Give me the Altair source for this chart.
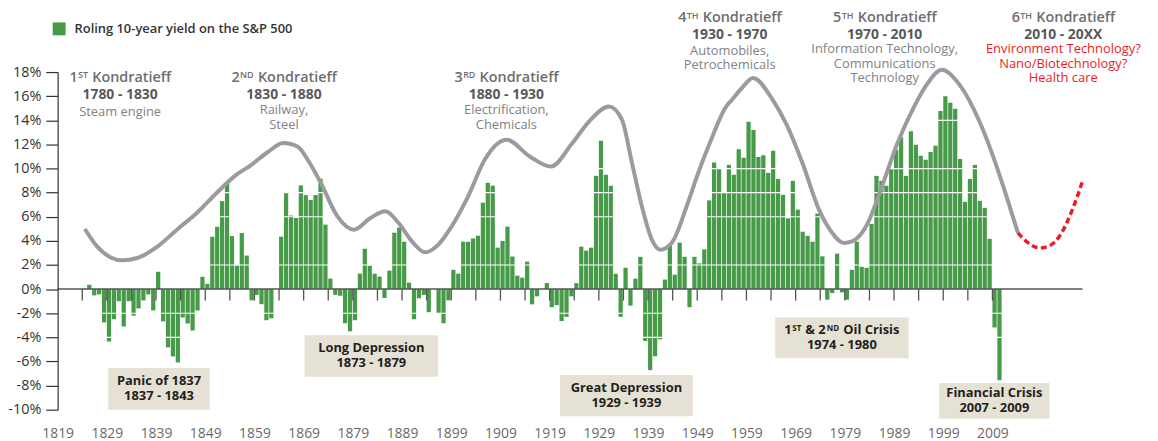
import altair as alt
import pandas as pd

# ---------------- data ----------------
BAR_YEARS = list(range(1825, 2011))
BAR_VALUES = [
    0.36, -0.52, -0.44, -2.76, -4.34, -2.5, -1.0, -3.1, -1.0, -2.2,
    -1.6, -0.94, -0.44, -1.77, 1.44, -2.68, -4.83, -5.58, -6.08, -2.35,
    -2.85, -3.43, -1.77, 1.02, 0.44, 4.34, 5.17, 7.3, 8.8, 4.4,
    1.95, 4.65, 2.78, -0.93, -0.48, -1.25, -2.58, -2.42, 0.0, 4.35,
    8.0, 6.1, 5.9, 8.6, 7.8, 7.4, 7.8, 9.15, 5.35, 0.87,
    -0.48, -0.55, -2.83, -3.5, -2.58, 1.28, 3.35, 1.95, 1.28, 1.04,
    -0.73, 1.53, 4.68, 5.1, 3.93, 0.54, -2.5, -0.76, -0.48, -1.92,
    0.0, -2.0, -2.83, -0.93, 1.6, 1.28, 3.93, 3.93, 4.2, 4.43,
    7.17, 8.82, 8.58, 3.44, 4.0, 5.18, 2.7, 1.12, 0.95, 2.28,
    -1.26, -0.6, 0.0, 0.5, -1.5, -1.33, -2.65, -2.3, -0.6, 0.5,
    3.52, 3.19, 3.44, 9.39, 12.3, 9.48, 8.57, 1.27, -2.3, 1.77,
    -1.37, 0.87, 2.68, -4.3, -6.72, -5.57, -4.16, 0.79, 3.6, 1.2,
    3.85, 2.68, -1.5, 2.68, 2.14, 3.3, 7.36, 10.5, 10.0, 8.0,
    10.3, 9.48, 11.6, 10.9, 13.87, 13.2, 10.96, 11.1, 9.64, 11.47,
    9.14, 7.82, 5.87, 8.98, 6.59, 4.76, 4.42, 3.93, 6.26, 2.72,
    -0.88, -0.33, 2.94, -0.27, -0.88, 1.6, 3.93, 1.85, 1.77, 5.41,
    9.39, 8.98, 8.57, 10.0, 11.55, 12.6, 9.39, 13.1, 11.97, 11.06,
    10.72, 11.38, 11.88, 14.77, 16.0, 15.45, 14.95, 10.8, 7.24, 9.14,
    10.3, 7.32, 6.74, 4.17, -3.18, -7.55,
]
assert len(BAR_YEARS) == len(BAR_VALUES)
SERIES_NAME = "Roling 10-year yield on the S&P 500"

TICK_YEARS = list(range(1824, 2010, 5))
X_LABEL_YEARS = list(range(1819, 2010, 10))
Y_TICKS = list(range(-10, 19, 2))
GRID_LEVELS = [-4, -2, 2, 6, 8, 10, 14]

WAVE_YEARS = [1824.53, 1827.09, 1829.78, 1832.14, 1835.17, 1839.2, 1843.24, 1847.28, 1851.31,
              1855.35, 1858.38, 1861.8, 1864.85, 1867.88, 1869.82, 1872.5, 1875.87, 1879.22,
              1882.59, 1885.62, 1888.3, 1891.01, 1893.69, 1896.38, 1899.08, 1902.43, 1905.8,
              1910.24, 1914.94, 1919.26, 1923.62, 1926.99, 1931.09, 1933.71, 1935.73, 1937.75,
              1939.77, 1941.46, 1943.8, 1947.17, 1949.19, 1951.55, 1954.9, 1956.06, 1958.1,
              1960.35, 1964.33, 1967.01, 1970.38, 1973.75, 1976.44, 1978.8, 1980.47, 1983.5,
              1986.19, 1989.56, 1992.93, 1995.61, 1998.7, 2002.33, 2006.37, 2009.74, 2011.76,
              2014.18]
WAVE_VALUES = [4.99, 3.5, 2.63, 2.39, 2.58, 3.5, 4.93, 6.31, 7.97,
               9.49, 10.31, 11.39, 12.11, 11.78, 10.73, 8.8, 6.03, 4.93,
               5.9, 6.45, 5.48, 3.96, 3.05, 3.69, 5.2, 7.69, 10.73,
               12.39, 11.0, 10.17, 12.11, 13.9, 15.15, 14.04, 10.46, 6.86,
               4.1, 3.27, 3.83, 7.25, 9.63, 12.11, 15.15, 15.7, 16.69,
               17.5, 15.7, 13.77, 10.46, 6.59, 4.66, 3.83, 3.96, 5.34,
               8.1, 11.97, 15.01, 16.94, 18.19, 16.94, 13.9, 10.31, 7.82,
               4.66]
FUTURE_YEARS = [2014.18, 2016.2, 2018.56, 2020.6, 2022.6, 2025.25, 2027.3]
FUTURE_VALUES = [4.66, 3.85, 3.41, 3.6, 4.37, 6.59, 8.93]

# Kondratieff headers
K_CENTERS = [1831.7, 1865.0, 1910.2, 1955.6, 1987.1, 2023.4]
K_TOP = [17.51, 17.51, 17.51, 22.45, 22.45, 22.45]
K_NUM = ["1", "2", "3", "4", "5", "6"]
K_SUP = ["ST", "ND", "RD", "TH", "TH", "TH"]
K_PERIOD = ["1780 - 1830", "1830 - 1880", "1880 - 1930", "1930 - 1970", "1970 - 2010", "2010 - 20XX"]
K_DESC = [["Steam engine"], ["Railway,", "Steel"], ["Electrification,", "Chemicals"],
          ["Automobiles,", "Petrochemicals"],
          ["Information Technology,", "Communications", "Technology"],
          ["Environment Technology?", "Nano/Biotechnology?", "Health care"]]
K_DESC_RED = [False, False, False, False, False, True]

# Crisis boxes
BOX_X1 = [1829.3, 1869.2, 1921.1, 1964.85, 1998.2]
BOX_X2 = [1849.9, 1896.3, 1948.1, 1991.95, 2020.6]
BOX_Y1 = [-6.54, -3.82, -7.12, -2.36, -7.78]
BOX_Y2 = [-10.0, -7.26, -10.55, -5.74, -10.74]
BOX_LINE1 = ["Panic of 1837", "Long Depression", "Great Depression", None, "Financial Crisis"]
BOX_LINE2 = ["1837 - 1843", "1873 - 1879", "1929 - 1939", "1974 - 1980", "2007 - 2009"]

# ---------------- styles ----------------
FONT = "Open Sans"
GREEN = "#479b48"
GRAY_LINE = "#9b9b9d"
RED = "#ed1c24"
BEIGE = "#e6e1d5"
C_HEAD = "#6d6e71"
C_PERIOD = "#58595b"
C_DESC = "#808285"
C_BOX = "#231f20"

W_PX, H_PX = 1032, 340
X_DOM = [1819, 2027.3]
Y_DOM = [-10, 18]
PX_PER_YEAR = W_PX / (X_DOM[1] - X_DOM[0])
PX_PER_PCT = H_PX / (Y_DOM[1] - Y_DOM[0])

CW = {' ': 0.26, '-': 0.322, '%': 0.824, '&': 0.73, '/': 0.371, ',': 0.25, '.': 0.266, '?': 0.429,
      'A': 0.633, 'B': 0.647, 'C': 0.631, 'D': 0.735, 'E': 0.557, 'F': 0.534, 'G': 0.736, 'H': 0.754,
      'I': 0.279, 'K': 0.61, 'L': 0.54, 'N': 0.774, 'O': 0.783, 'P': 0.6, 'R': 0.618, 'S': 0.549,
      'T': 0.553, 'X': 0.577, 'a': 0.556, 'b': 0.613, 'c': 0.48, 'd': 0.613, 'e': 0.561, 'f': 0.336,
      'g': 0.546, 'h': 0.613, 'i': 0.258, 'k': 0.529, 'l': 0.258, 'm': 0.928, 'n': 0.613, 'o': 0.602,
      'p': 0.613, 'r': 0.408, 's': 0.477, 't': 0.352, 'u': 0.613, 'v': 0.5, 'w': 0.774, 'x': 0.523,
      'y': 0.5, 'z': 0.463}
for d in "0123456789":
    CW[d] = 0.572
WF = {400: 1.0, 600: 1.04, 700: 1.07}


def text_w(s, size, weight):
    return sum(CW.get(c, 0.55) for c in s) * size * WF[weight]


def place(cx, cy, dx, dy):
    return cx + dx / PX_PER_YEAR, cy - dy / PX_PER_PCT


def seg_rows(cx, cy, off, segments, weight, fill):
    total = sum(text_w(t, s, weight) for t, s, _ in segments)
    cur = -total / 2
    rows = []
    for t, s, r in segments:
        lead = len(t) - len(t.lstrip(" "))
        x, y = place(cx, cy, cur + text_w(" " * lead, s, weight), off - r)
        rows.append(dict(x=x, y=y, t=t.strip(), fs=s, col=fill))
        cur += text_w(t, s, weight)
    return rows


def block_row(cx, cy, first_off, lines, size, fill):
    # multi-line block, baseline "top": y is the top of the first line
    x, y = place(cx, cy, 0, first_off - 0.49 * size)
    return dict(x=x, y=y, t="\n".join(lines), fs=size, col=fill)


LH_DESC = 14.5
LH_BOX = 15

seg600, seg700, blk700, blk400 = [], [], [], []
for i in range(6):
    cx, cy = K_CENTERS[i], K_TOP[i]
    seg600 += seg_rows(cx, cy, 0, [(K_NUM[i], 14.5, 0), (K_SUP[i], 9, 2.5), (" Kondratieff", 14.5, 0)],
                       600, C_HEAD)
    blk700.append(block_row(cx, cy, 17, [K_PERIOD[i]], 14, C_PERIOD))
    first = {1: 34.5, 2: 33, 3: 31.5}[len(K_DESC[i])]
    blk400.append(block_row(cx, cy, first, K_DESC[i], 13, RED if K_DESC_RED[i] else C_DESC))

for i in range(5):
    cx = (BOX_X1[i] + BOX_X2[i]) / 2
    cy = (BOX_Y1[i] + BOX_Y2[i]) / 2
    if BOX_LINE1[i] is None:
        seg700 += seg_rows(cx, cy, -7.5, [("1", 13, 0), ("ST", 8, 2), (" & 2", 13, 0), ("ND", 8, 2),
                                          (" Oil Crisis", 13, 0)], 700, C_BOX)
        blk700.append(block_row(cx, cy, 7.5, [BOX_LINE2[i]], 13, C_BOX))
    else:
        blk700.append(block_row(cx, cy, -7.5, [BOX_LINE1[i], BOX_LINE2[i]], 13, C_BOX))

bars_df = pd.DataFrame({"year": BAR_YEARS, "val": BAR_VALUES})
bars_df["series"] = SERIES_NAME
wave_df = pd.DataFrame({"year": WAVE_YEARS, "val": WAVE_VALUES})
future_df = pd.DataFrame({"year": FUTURE_YEARS, "val": FUTURE_VALUES})
grid_df = pd.DataFrame({"lvl": GRID_LEVELS})
tick_df = pd.DataFrame({"year": TICK_YEARS, "top": 0.0, "bot": -0.95})
zero_df = pd.DataFrame({"z": [0.0]})
box_df = pd.DataFrame({"x1": BOX_X1, "x2": BOX_X2, "y1": BOX_Y1, "y2": BOX_Y2})

XS = alt.Scale(domain=X_DOM, nice=False, zero=False)
YS = alt.Scale(domain=Y_DOM, nice=False)

XAX = alt.Axis(values=X_LABEL_YEARS, format="d", title=None, ticks=False, domain=False, grid=False,
               labelPadding=17, labelFont=FONT, labelFontSize=14, labelColor="#6a6a6a",
               labelOverlap=False, labelFlush=False)
YAX = alt.Axis(values=Y_TICKS, labelExpr="datum.value + '%'", title=None, grid=False, tickSize=12,
               tickColor="#333333", domainColor="#333333", tickWidth=1.2, domainWidth=1.2,
               labelPadding=5, labelFont=FONT, labelFontSize=14.5, labelColor="#333333", zindex=1)


def X(field):
    return alt.X(field, scale=XS, axis=XAX)


def Y(field, **kw):
    return alt.Y(field, scale=YS, axis=YAX, **kw)


bars = alt.Chart(bars_df).mark_bar().transform_calculate(
    year_end="datum.year + 0.86", z0="0"
).encode(
    x=X("year:Q"),
    x2="year_end:Q",
    y=Y("val:Q", stack=None),
    y2="z0:Q",
    color=alt.Color("series:N", scale=alt.Scale(range=[GREEN]),
                    legend=alt.Legend(title=None, orient="none", legendX=-5, legendY=-50,
                                      symbolType="square", symbolSize=169, symbolStrokeWidth=0,
                                      symbolOpacity=1, labelFont=FONT, labelFontSize=13,
                                      labelFontWeight=600, labelColor="#333333", labelOffset=9,
                                      labelLimit=0, padding=0)),
)

white_rules = alt.Chart(grid_df).mark_rule(color="white", strokeWidth=1.2).encode(y=Y("lvl:Q"))

zero_line = alt.Chart(zero_df).mark_rule(color="#555555", strokeWidth=1.5).encode(y=Y("z:Q"))

ticks = alt.Chart(tick_df).mark_rule(color="#555555", strokeWidth=1.3).encode(
    x=X("year:Q"), y=Y("top:Q"), y2="bot:Q")

boxes = alt.Chart(box_df).mark_rect(color=BEIGE).encode(
    x=X("x1:Q"), x2="x2:Q", y=Y("y1:Q"), y2="y2:Q")

wave = alt.Chart(wave_df).mark_line(color=GRAY_LINE, strokeWidth=4, interpolate="monotone").encode(
    x=X("year:Q"), y=Y("val:Q"))

future = alt.Chart(future_df).mark_line(color=RED, strokeWidth=3.5, strokeDash=[6, 3.5],
                                        interpolate="monotone").encode(
    x=X("year:Q"), y=Y("val:Q"))


def seg_layer(rows, weight):
    df = pd.DataFrame(rows)
    return alt.Chart(df).mark_text(font=FONT, fontWeight=weight, align="left", baseline="middle").encode(
        x=X("x:Q"), y=Y("y:Q"),
        size=alt.Size("fs:Q", scale=None, legend=None),
        fill=alt.Fill("col:N", scale=None, legend=None),
        text="t:N",
    )


def block_layer(rows, weight, lh):
    df = pd.DataFrame(rows)
    return alt.Chart(df).mark_text(font=FONT, fontWeight=weight, align="center", baseline="top",
                                   lineBreak="\n", lineHeight=lh).encode(
        x=X("x:Q"), y=Y("y:Q"),
        size=alt.Size("fs:Q", scale=None, legend=None),
        fill=alt.Fill("col:N", scale=None, legend=None),
        text="t:N",
    )


chart = alt.layer(
    bars, white_rules, zero_line, ticks, boxes, wave, future,
    seg_layer(seg600, 600),
    seg_layer(seg700, 700),
    block_layer(blk700, 700, LH_BOX),
    block_layer(blk400, 400, LH_DESC),
).properties(
    width=W_PX, height=H_PX,
    padding={"left": 50, "top": 63, "right": 68, "bottom": 30},
    autosize=alt.AutoSizeParams(type="none"),
).configure(font=FONT).configure_view(stroke=None)

chart.save("out.html", embed_options={"renderer": "svg", "actions": False})
